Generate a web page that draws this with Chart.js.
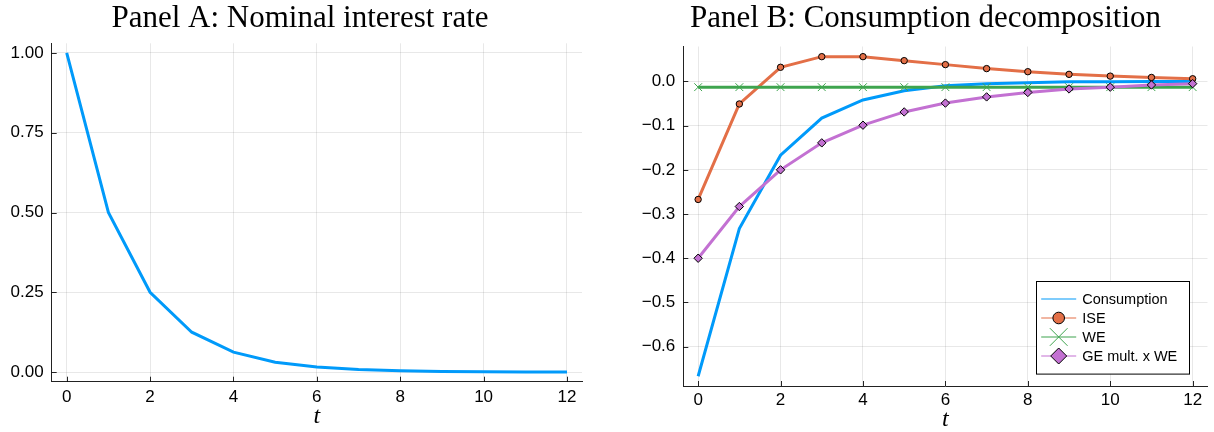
<!DOCTYPE html>
<html><head><meta charset="utf-8">
<script src="https://cdn.jsdelivr.net/npm/chart.js@4.4.1/dist/chart.umd.min.js"></script>
<style>
html,body{margin:0;padding:0;background:#fff;}
#wrap{position:relative;width:1214px;height:432px;overflow:hidden;background:#fff;}
canvas{position:absolute;top:0;}
#ca{left:0;} #cb{left:607px;}
</style></head><body>
<div id="wrap"><canvas id="ca" width="607" height="432"></canvas><canvas id="cb" width="607" height="432"></canvas></div>
<script>
// ---------------- data ----------------
const periods = [0,1,2,3,4,5,6,7,8,9,10,11,12];
const nominalRate = [1.000,0.500,0.250,0.125,0.0625,0.031,0.016,0.008,0.004,0.002,0.001,0.0005,0.0002];
const consumption = [-0.667,-0.333,-0.167,-0.083,-0.042,-0.021,-0.010,-0.005,-0.003,-0.001,-0.001,0.000,0.000];
const ise = [-0.267,-0.051,0.032,0.056,0.056,0.047,0.038,0.029,0.022,0.016,0.012,0.009,0.006];
const we = [-0.013,-0.013,-0.013,-0.013,-0.013,-0.013,-0.013,-0.013,-0.013,-0.013,-0.013,-0.013,-0.013];
const geWe = [-0.400,-0.283,-0.200,-0.139,-0.099,-0.069,-0.049,-0.035,-0.025,-0.017,-0.013,-0.008,-0.005];
const seriesNames = ['Consumption','ISE','WE','GE mult. x WE'];
const titleA = 'Panel A: Nominal interest rate';
const titleB = 'Panel B: Consumption decomposition';
const xAxisLabel = 't';
const xTicks = [0,2,4,6,8,10,12];
const xTickLabels = ['0','2','4','6','8','10','12'];
const yTicksA = [0,0.25,0.5,0.75,1];
const yTickLabelsA = ['0.00','0.25','0.50','0.75','1.00'];
const yTicksB = [-0.6,-0.5,-0.4,-0.3,-0.2,-0.1,0];
const yTickLabelsB = ['\u22120.6','\u22120.5','\u22120.4','\u22120.3','\u22120.2','\u22120.1','0.0'];

const BLUE='#009AFA', ORANGE='#E36F47', GREEN='#3EA44E', PURPLE='#C371D2';
const pts = vals => periods.map((t,i)=>({x:t,y:vals[i]}));

Chart.defaults.font.family = "'Liberation Sans', Arial, sans-serif";
Chart.defaults.color = '#000';

const innerTicks = {
  id:'innerTicks',
  beforeDatasetsDraw(chart){
    const {ctx, chartArea:ca, scales:{x,y}} = chart;
    ctx.save(); ctx.strokeStyle='rgba(0,0,0,0.85)'; ctx.lineWidth=1; ctx.beginPath();
    x.ticks.forEach(t=>{const px=Math.round(x.getPixelForValue(t.value))+0.5; ctx.moveTo(px,ca.bottom); ctx.lineTo(px,ca.bottom-5);});
    y.ticks.forEach(t=>{const py=Math.round(y.getPixelForValue(t.value))+0.5; ctx.moveTo(ca.left,py); ctx.lineTo(ca.left+5,py);});
    ctx.stroke(); ctx.restore();
  }
};

// place the title block span (canvas coordinates) so it is centred like the reference
function titleSpan(left, right){
  return {
    id:'titleSpan',
    afterLayout(chart){
      const tb = chart.titleBlock;
      if(tb){ tb.left = left; tb.right = right; tb.width = right-left; }
    }
  };
}

function marker(ctx, style, x, y, r, fill, stroke){
  ctx.beginPath();
  if(style==='circle'){ ctx.arc(x,y,r,0,Math.PI*2); }
  else if(style==='rectRot'){ ctx.moveTo(x-r,y); ctx.lineTo(x,y-r); ctx.lineTo(x+r,y); ctx.lineTo(x,y+r); ctx.closePath(); }
  else if(style==='crossRot'){ const d=r*Math.SQRT1_2; ctx.moveTo(x-d,y-d); ctx.lineTo(x+d,y+d); ctx.moveTo(x+d,y-d); ctx.lineTo(x-d,y+d); }
  if(style!=='crossRot' && fill){ ctx.fillStyle=fill; ctx.fill(); }
  ctx.strokeStyle=stroke; ctx.lineWidth=1; ctx.stroke();
}

const legendB = {
  id:'legendB',
  afterDraw(chart){
    const {ctx, chartArea:ca} = chart;
    const w=154, h=93.6;
    const x0=ca.right-171.6, y0=ca.bottom-105.3;
    ctx.save();
    ctx.fillStyle='#fff'; ctx.fillRect(x0,y0,w,h);
    ctx.strokeStyle='#000'; ctx.lineWidth=1; ctx.strokeRect(Math.round(x0)+0.5,Math.round(y0)+0.5,w-1,h-1);
    const legMarkers = [null, ['circle',5.8], ['crossRot',12.5], ['rectRot',8]];
    chart.data.datasets.forEach((ds,i)=>{
      const cy=y0+18.3+i*19;
      ctx.strokeStyle=ds.borderColor; ctx.lineWidth=1.2;
      ctx.beginPath(); ctx.moveTo(x0+5.3,cy); ctx.lineTo(x0+40.3,cy); ctx.stroke();
      const m=legMarkers[i];
      if(m){ marker(ctx,m[0],x0+22.8,cy,m[1],ds.pointBackgroundColor, m[0]==='crossRot'?ds.borderColor:'#000'); }
      ctx.fillStyle='#000'; ctx.font="14.5px 'Liberation Sans', Arial, sans-serif";
      ctx.textBaseline='middle'; ctx.textAlign='left';
      ctx.fillText(ds.label,x0+46.3,cy+0.5);
    });
    ctx.restore();
  }
};

const gridOpt = {color:'rgba(0,0,0,0.09)', lineWidth:1, drawTicks:false};
const borderOpt = {display:true, color:'#222', width:1};

function xScale(height, pad, titlePadBottom){
  return {type:'linear', min:-0.36, max:12.36,
    afterBuildTicks:s=>{s.ticks=xTicks.map(v=>({value:v}));},
    afterFit:s=>{s.height=height; s.paddingLeft=0; s.paddingRight=0;},
    grid:gridOpt, border:borderOpt,
    ticks:{padding:pad, color:'#000', font:{size:17}, maxRotation:0, minRotation:0, autoSkip:false,
      callback:(v,i)=>xTickLabels[i]},
    title:{display:true, text:xAxisLabel, color:'#000',
      font:{family:"'Liberation Serif', serif", style:'italic', size:24, lineHeight:1},
      padding:{top:0,bottom:titlePadBottom}}
  };
}
function yScale(width, min, max, ticks, labels){
  return {type:'linear', min:min, max:max,
    afterBuildTicks:s=>{s.ticks=ticks.map(v=>({value:v}));},
    afterFit:s=>{s.width=width; s.paddingTop=0; s.paddingBottom=0;},
    grid:gridOpt, border:borderOpt,
    ticks:{padding:8, color:'#000', font:{size:17}, autoSkip:false, callback:(v,i)=>labels[i]}
  };
}
function titleOpt(text, padBottom){
  return {display:true, text:text, color:'#000', fullSize:true,
    font:{family:"'Liberation Serif', serif", size:31, weight:'normal', lineHeight:1.2},
    padding:{top:0,bottom:padBottom}};
}

new Chart(document.getElementById('ca'), {
  type:'line',
  data:{datasets:[{label:'Nominal interest rate', data:pts(nominalRate), borderColor:BLUE, borderWidth:3, pointRadius:0, tension:0, fill:false}]},
  options:{responsive:false, animation:false, events:[],
    layout:{padding:{left:0,right:25,top:0,bottom:0}},
    scales:{x:xScale(50.3,5.6,3), y:yScale(51.7,-0.03,1.03,yTicksA,yTickLabelsA)},
    plugins:{title:titleOpt(titleA,6.1), legend:{display:false}, tooltip:{enabled:false}}
  },
  plugins:[innerTicks, titleSpan(18,582)]
});

new Chart(document.getElementById('cb'), {
  type:'line',
  data:{datasets:[
    {label:seriesNames[0], data:pts(consumption), borderColor:BLUE, backgroundColor:BLUE, borderWidth:3, pointRadius:0, tension:0, fill:false, order:4},
    {label:seriesNames[1], data:pts(ise), borderColor:ORANGE, backgroundColor:ORANGE, borderWidth:3, pointStyle:'circle', pointRadius:3.2, pointBackgroundColor:ORANGE, pointBorderColor:'#000', pointBorderWidth:1, tension:0, fill:false, order:3},
    {label:seriesNames[2], data:pts(we), borderColor:GREEN, backgroundColor:GREEN, borderWidth:3, pointStyle:'crossRot', pointRadius:5.5, pointBorderColor:GREEN, pointBorderWidth:1, tension:0, fill:false, order:2},
    {label:seriesNames[3], data:pts(geWe), borderColor:PURPLE, backgroundColor:PURPLE, borderWidth:3, pointStyle:'rectRot', pointRadius:4.2, pointBackgroundColor:PURPLE, pointBorderColor:'#000', pointBorderWidth:1, tension:0, fill:false, order:1}
  ]},
  options:{responsive:false, animation:false, events:[],
    layout:{padding:{left:0,right:0.7,top:0,bottom:0}},
    scales:{x:xScale(46,4.3,0), y:yScale(76.3,-0.689,0.079,yTicksB,yTickLabelsB)},
    plugins:{title:titleOpt(titleB,9.3), legend:{display:false}, tooltip:{enabled:false}}
  },
  plugins:[innerTicks, legendB, titleSpan(31,606)]
});
</script>
</body></html>
